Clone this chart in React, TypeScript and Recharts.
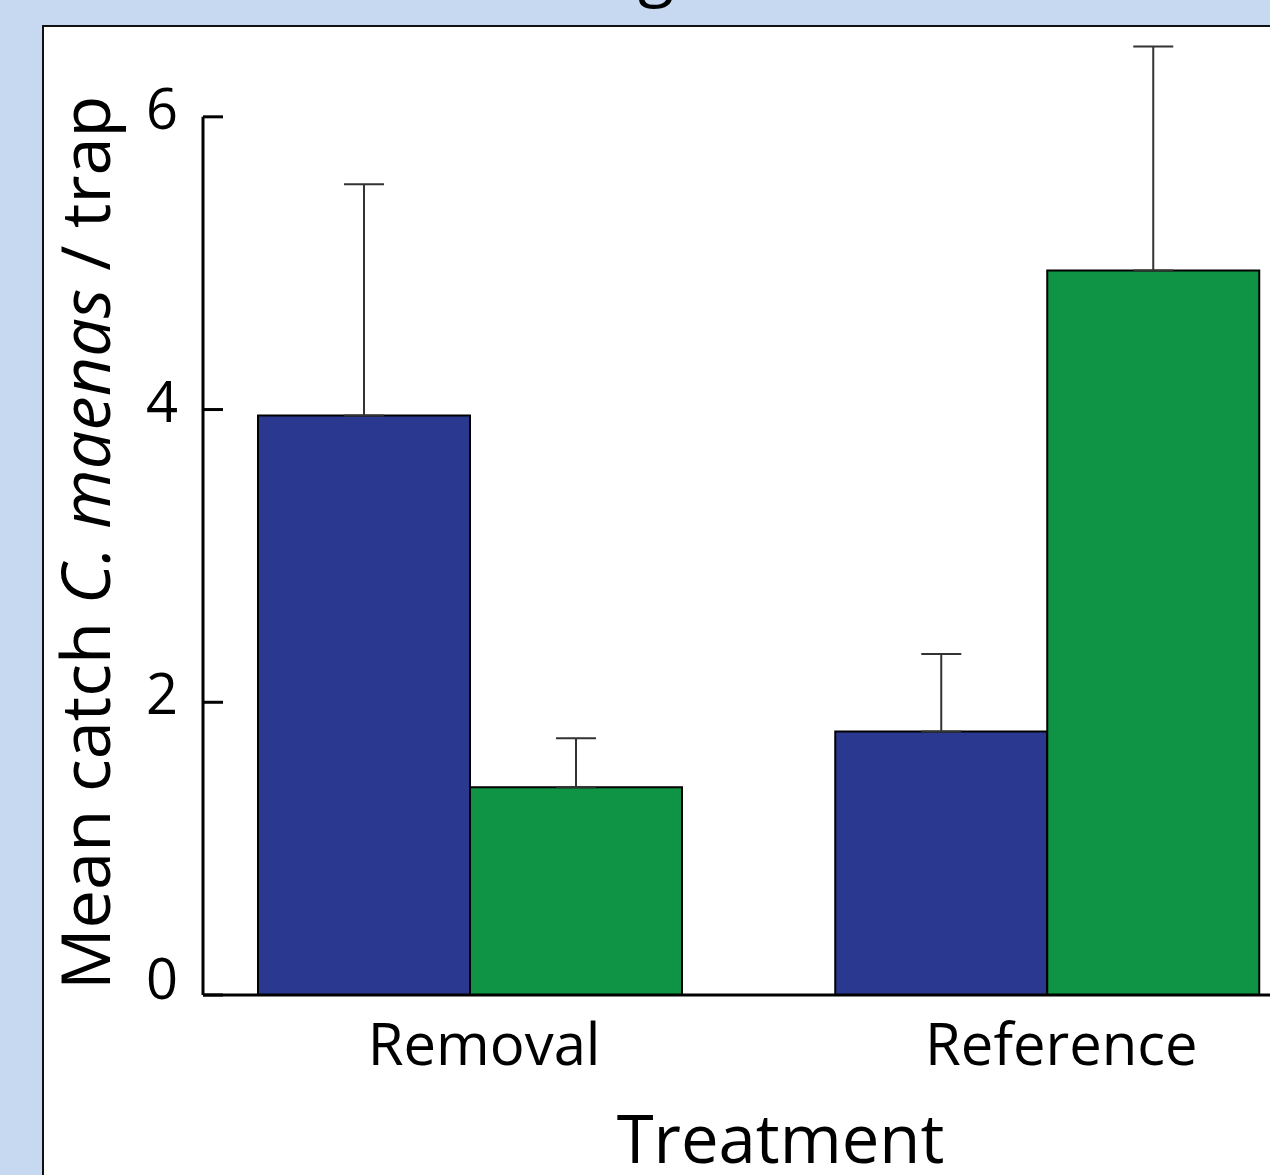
import React from "react";
import { BarChart, Bar, XAxis, YAxis, ErrorBar } from "recharts";

// values
const treatments = ["Removal", "Reference"];
const blueMeans = [3.96, 1.8];
const blueErrors = [1.58, 0.53];
const greenMeans = [1.42, 4.95];
const greenErrors = [0.335, 1.53];
const yTicks = [0, 2, 4, 6];

const yMax = 6.6;
const topTick = 6;

const data = treatments.map((name, i) => ({
  name,
  blue: blueMeans[i],
  blueErr: [0, blueErrors[i]],
  green: greenMeans[i],
  greenErr: [0, greenErrors[i]],
}));

const FONT = "'Open Sans', 'Noto Sans', sans-serif";
const chartW = 1340;
const chartH = 1175;
const marginTop = 29;
const xAxisH = 180;
const plotH = chartH - marginTop - xAxisH;
const gap = (plotH * (yMax - topTick)) / yMax;

const YTick = (props: any) => {
  const { x, y, payload } = props;
  // labels sit a little above their tick marks, the 0 a bit more
  const dy = payload.value === 0 ? -18 : -10;
  return (
    <g>
      <line x1={x + 25} x2={x + 45} y1={y} y2={y} stroke="#000" strokeWidth={3} />
      <text
        x={x}
        y={y + dy}
        textAnchor="end"
        dominantBaseline="central"
        fontSize={56}
        fontFamily={FONT}
        fill="#000"
      >
        {payload.value}
      </text>
    </g>
  );
};

const XTick = (props: any) => {
  const { x, y, payload } = props;
  return (
    <text
      x={x + 14}
      y={y + 70}
      textAnchor="middle"
      fontSize={58}
      fontFamily={FONT}
      fill="#000"
    >
      {payload.value}
    </text>
  );
};

const YLabel = (props: any) => {
  const { viewBox } = props;
  const tx = viewBox.x + 110;
  const ty = viewBox.y + viewBox.height - 5;
  return (
    <text
      x={tx}
      y={ty}
      transform={`rotate(-90, ${tx}, ${ty})`}
      textAnchor="start"
      fontSize={68.5}
      fontFamily={FONT}
      fill="#000"
    >
      Mean catch <tspan fontStyle="italic">C. maenas</tspan> / trap
    </text>
  );
};

export default function App() {
  return (
    <div
      style={{
        position: "relative",
        width: 1270,
        height: 1175,
        overflow: "hidden",
        background: "#c6d9f0",
      }}
    >
      <style>{`body { margin: 0; }`}</style>
      <svg
        width={1270}
        height={30}
        style={{ position: "absolute", left: 0, top: 0 }}
      >
        <text x={656} y={-7} textAnchor="middle" fontSize={66} fontFamily={FONT} fill="#000">
          g
        </text>
      </svg>

      <div
        style={{
          position: "absolute",
          left: 42,
          top: 25,
          right: -40,
          bottom: -40,
          background: "#fff",
          borderLeft: "2px solid #111",
          borderTop: "2px solid #111",
        }}
      />

      <div style={{ position: "absolute", left: 0, top: 0 }}>
        <BarChart
          width={chartW}
          height={chartH}
          data={data}
          margin={{ top: marginTop, right: 4, left: 0, bottom: 0 }}
          barCategoryGap={76.5}
          barGap={0}
        >
          <XAxis
            dataKey="name"
            height={xAxisH}
            padding={{ left: -21.5, right: 0 }}
            axisLine={{ stroke: "#000", strokeWidth: 3 }}
            tickLine={false}
            tickSize={0}
            tickMargin={0}
            tick={<XTick />}
            label={{
              value: "Treatment",
              position: "insideBottom",
              offset: 12,
              dx: 11,
              fontSize: 67,
              fontFamily: FONT,
              fill: "#000",
            }}
          />
          <YAxis
            width={203}
            domain={[0, yMax]}
            ticks={yTicks}
            interval={0}
            axisLine={{
              stroke: "#000",
              strokeWidth: 3,
              strokeDasharray: `0 ${gap} ${plotH}`,
            }}
            tickLine={false}
            tickSize={0}
            tickMargin={25}
            tick={<YTick />}
            label={<YLabel />}
          />
          <Bar
            dataKey="blue"
            fill="#2a388f"
            stroke="#000"
            strokeWidth={2}
            isAnimationActive={false}
          >
            <ErrorBar dataKey="blueErr" direction="y" width={20} stroke="#333" strokeWidth={2} />
          </Bar>
          <Bar
            dataKey="green"
            fill="#0e9444"
            stroke="#000"
            strokeWidth={2}
            isAnimationActive={false}
          >
            <ErrorBar dataKey="greenErr" direction="y" width={20} stroke="#333" strokeWidth={2} />
          </Bar>
        </BarChart>
      </div>
    </div>
  );
}
